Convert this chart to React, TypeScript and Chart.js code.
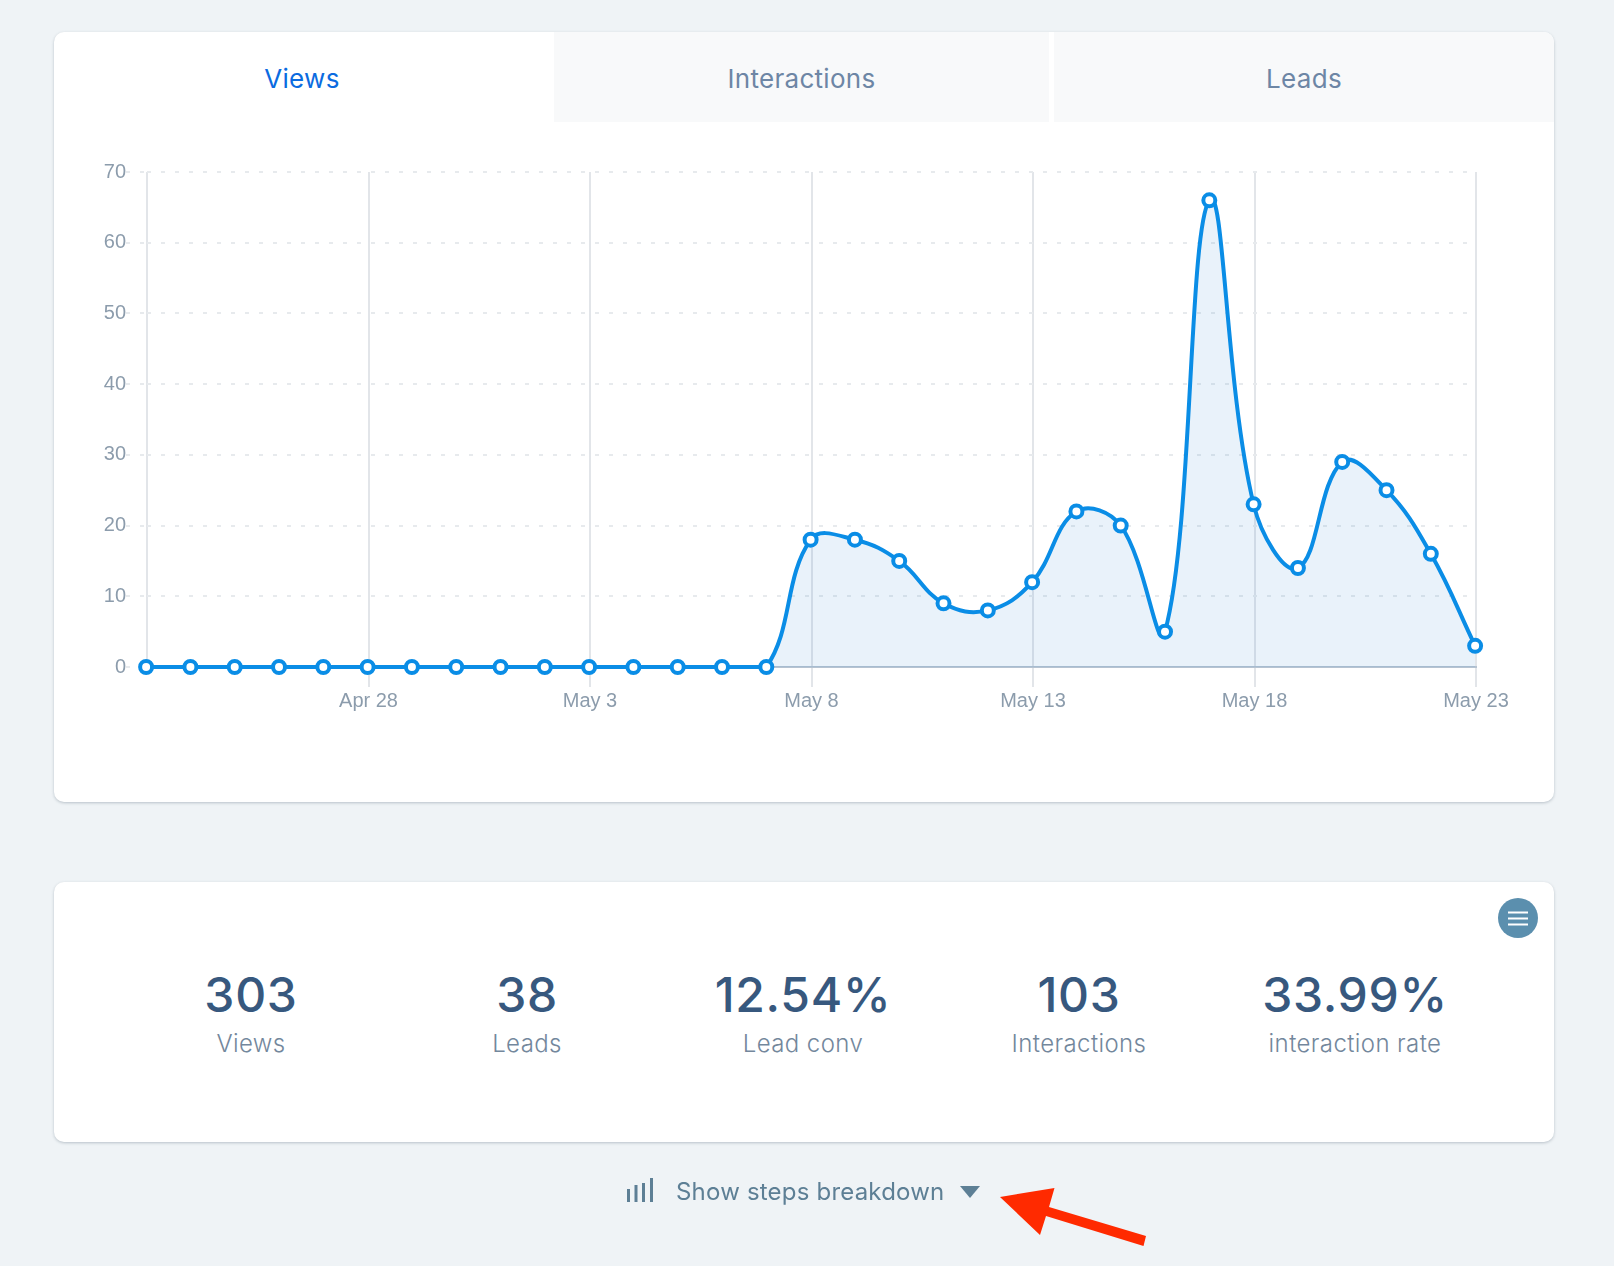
import React, { useEffect, useRef } from "react";
import { Chart, registerables } from "chart.js";

Chart.register(...registerables);

const tickLabels: Record<number, string> = { 5: "Apr 28", 10: "May 3", 15: "May 8", 20: "May 13", 25: "May 18", 30: "May 23" };
const viewsValues = [0, 0, 0, 0, 0, 0, 0, 0, 0, 0, 0, 0, 0, 0, 0, 18, 18, 15, 9, 8, 12, 22, 20, 5, 66, 23, 14, 29, 25, 16, 3];
const tabs = ["Views", "Interactions", "Leads"];
const statValues = ["303", "38", "12.54%", "103", "33.99%"];
const statLabels = ["Views", "Leads", "Lead conv", "Interactions", "interaction rate"];
const statCenters = [251, 527, 803, 1079, 1355];

const sans = "Inter, 'Noto Sans', sans-serif";
const abs = (left: number, top: number, width: number, height: number): React.CSSProperties => ({
  position: "absolute", left, top, width, height,
});
const card: React.CSSProperties = {
  position: "absolute", background: "#fff", borderRadius: 10,
  boxShadow: "0 1px 3px rgba(70,90,110,0.32)", overflow: "hidden",
};

export default function App() {
  const ref = useRef<HTMLCanvasElement>(null);
  useEffect(() => {
    document.body.style.margin = "0";
    const chart = new Chart(ref.current!, {
      type: "line",
      data: {
        datasets: [{
          xAxisID: "xData",
          data: viewsValues.map((y, x) => ({ x, y })),
          borderColor: "#0a8de6",
          borderWidth: 4,
          tension: 0.4,
          fill: "origin",
          backgroundColor: "rgba(35,125,205,0.1)",
          pointRadius: 6,
          pointBorderWidth: 4,
          pointBorderColor: "#0a8de6",
          pointBackgroundColor: "#fff",
          clip: false,
        }],
      },
      options: {
        animation: false,
        responsive: false,
        layout: { padding: { left: 0, right: 78, top: 50, bottom: 0 } },
        plugins: { legend: { display: false }, tooltip: { enabled: false } },
        scales: {
          xData: { type: "linear", axis: "x", display: false, min: 0.02, max: 30.02 },
          x: {
            type: "linear", min: 0, max: 30,
            afterFit: (s: any) => { s.height = 135; },
            ticks: {
              stepSize: 5, maxRotation: 0, autoSkip: false, padding: 2,
              color: "#8c9cac", font: { family: "'Liberation Sans'", size: 20 },
              callback: (v: any) => tickLabels[v] ?? "",
            },
            grid: {
              color: "#e2e5e9", lineWidth: 2, tickLength: 20,
              tickColor: (c: any) => (c.index === 0 ? "transparent" : "#e2e5e9"),
            },
            border: { display: true, color: "#b6c3d1", width: 2 },
          },
          y: {
            min: 0, max: 70,
            afterFit: (s: any) => { s.width = 93; },
            ticks: {
              stepSize: 10, padding: 0,
              color: "#8c9cac", font: { family: "'Liberation Sans'", size: 20 },
            },
            grid: { color: "#e7eaed", lineWidth: 2, tickLength: 21, tickColor: "#e7eaed", tickBorderDash: [4, 10], tickBorderDashOffset: 0 },
            border: { display: false, dash: [4, 10] },
          },
        },
      },
    } as any);
    return () => chart.destroy();
  }, []);

  return (
    <div style={{ ...abs(0, 0, 1614, 1266), background: "#eff3f6", overflow: "hidden", fontFamily: sans }}>
      <div style={{ ...card, ...{ left: 54, top: 32, width: 1500, height: 770 } }}>
        <div style={{ ...abs(500, 0, 495, 90), background: "#f8f9fa" }} />
        <div style={{ ...abs(1000, 0, 500, 90), background: "#f8f9fa" }} />
        {tabs.map((t, i) => (
          <div key={t} style={{
            ...abs(i === 0 ? 0 : i === 1 ? 500 : 1000, 0, i === 1 ? 495 : 500, 90),
            textAlign: "center", lineHeight: "94px", fontSize: 26, letterSpacing: 0.3,
            paddingRight: i === 0 ? 4 : 0, boxSizing: "border-box",
            color: i === 0 ? "#0b6be0" : "#6d86a5",
          }}>{t}</div>
        ))}
      </div>
      <canvas ref={ref} width={1500} height={680} style={{ ...abs(54, 122, 1500, 680), display: "block" }} />

      <div style={{ ...card, left: 54, top: 882, width: 1500, height: 260 }} />
      {statCenters.map((c, i) => (
        <React.Fragment key={statLabels[i]}>
          <div style={{ ...abs(c - 130, 960, 260, 70), textAlign: "center", fontSize: 48, lineHeight: "70px", fontWeight: 500, letterSpacing: 0.7, color: "#37587e" }}>{statValues[i]}</div>
          <div style={{ ...abs(c - 130, 1024, 260, 40), textAlign: "center", fontSize: 24, lineHeight: "40px", fontWeight: 300, letterSpacing: 0.4, color: "#73879c" }}>{statLabels[i]}</div>
        </React.Fragment>
      ))}
      <svg style={abs(0, 0, 1614, 1266)} viewBox="0 0 1614 1266">
        <circle cx="1518" cy="918" r="20" fill="#5b8fae" />
        <rect x="1508" y="911.5" width="20" height="2" fill="#fff" />
        <rect x="1508" y="917.5" width="20" height="2" fill="#fff" />
        <rect x="1508" y="923.5" width="20" height="2" fill="#fff" />
        <rect x="627" y="1189" width="3" height="13" fill="#5d7f95" />
        <rect x="634.5" y="1185" width="3" height="17" fill="#5d7f95" />
        <rect x="642" y="1183" width="3" height="19" fill="#5d7f95" />
        <rect x="650" y="1178" width="3" height="24" fill="#5d7f95" />
        <path d="M960 1186 H980 L970 1198 Z" fill="#5d7f95" />
        <path d="M1000 1197 L1054.5 1188 L1049 1207 L1146 1236 L1143.5 1246 L1046 1216 L1040 1235 Z" fill="#ff2a00" />
      </svg>
      <div style={{ ...abs(660, 1172, 300, 40), fontSize: 24, lineHeight: "40px", letterSpacing: 0.2, color: "#5d7f95", paddingLeft: 16 }}>Show steps breakdown</div>
    </div>
  );
}
